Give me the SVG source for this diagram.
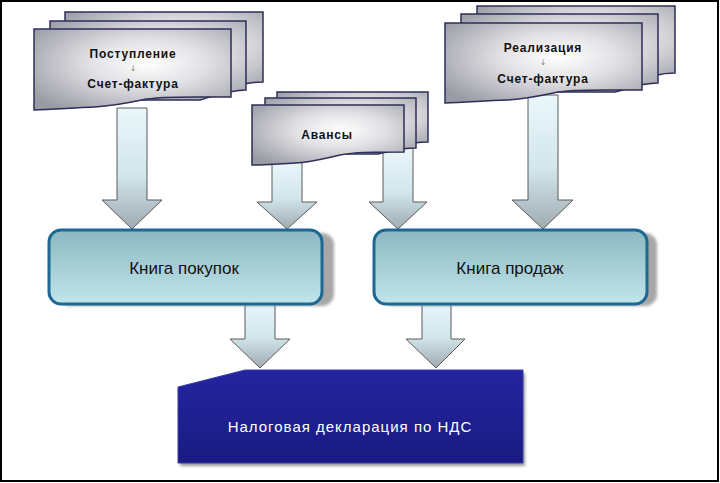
<svg xmlns="http://www.w3.org/2000/svg" width="720" height="483" viewBox="0 0 720 483">
<defs>
<radialGradient id="docG" cx="0.58" cy="0.42" r="0.72">
<stop offset="0" stop-color="#ffffff"/>
<stop offset="0.4" stop-color="#e2e2e6"/>
<stop offset="1" stop-color="#9a9aa4"/>
</radialGradient>
<linearGradient id="arrG" x1="0" y1="0" x2="0" y2="1">
<stop offset="0" stop-color="#eaf7fb"/>
<stop offset="0.55" stop-color="#d2e6ec"/>
<stop offset="1" stop-color="#9fabb1"/>
</linearGradient>
<linearGradient id="bookG" x1="0" y1="0" x2="0" y2="1">
<stop offset="0" stop-color="#8db8c1"/>
<stop offset="1" stop-color="#c0e5eb"/>
</linearGradient>
<linearGradient id="ndsG" x1="0" y1="0" x2="0" y2="1">
<stop offset="0" stop-color="#2424a0"/>
<stop offset="1" stop-color="#1a1a82"/>
</linearGradient>
<filter id="blur" x="-10%" y="-10%" width="130%" height="130%"><feGaussianBlur stdDeviation="1.5"/></filter>
</defs>
<style>
.doc{fill:url(#docG);stroke:#2e2e58;stroke-width:1.5}
.arr{fill:url(#arrG);stroke:#5a5a5a;stroke-width:1}
.book{fill:url(#bookG);stroke:#1d6894;stroke-width:3}
.shadow{fill:#8a8a8a;opacity:0.75;filter:url(#blur)}
.dt{font-family:"Liberation Sans",Arial,sans-serif;font-weight:bold;font-size:12px;fill:#111;text-anchor:middle;letter-spacing:0.8px}
.sm{font-family:"DejaVu Sans",sans-serif;font-size:8px;fill:#888;text-anchor:middle}
.bt{font-family:"Liberation Sans",Arial,sans-serif;font-size:17px;fill:#111;text-anchor:middle}
.nt{font-family:"Liberation Sans",Arial,sans-serif;font-size:15px;fill:#ffffff;text-anchor:middle;letter-spacing:1px}
</style>
<rect x="1" y="1" width="717" height="480" fill="#ffffff" stroke="#000" stroke-width="2"/>

<g id="connectors">
<polygon class="arr" points="117,108 147,108 147,200 162,200 132,229 102,200 117,200"/>
<polygon class="arr" points="272,160 302,160 302,202 317,202 287,229 257,202 272,202"/>
<polygon class="arr" points="383,148 413,148 413,202 427,202 398,229 369,202 383,202"/>
<polygon class="arr" points="528,95 558,95 558,200 573,200 543,229 512,200 528,200"/>
<polygon class="arr" points="245,300 275,300 275,339 290,339 260,368 230,339 245,339"/>
<polygon class="arr" points="422,300 451,300 451,339 465,339 436,368 406,339 422,339"/>
</g>

<g id="doc-postuplenie">
<path class="doc" d="M65,12 H263 V82 C245,82 232,88 220,92 L65,92 Z"/>
<path class="doc" d="M50,21 H246 V90 C228,90 215,96 200,100 L50,100 Z"/>
<path class="doc" d="M34,29 H231 V97 C185,97 165,96 147,99 C128,103 115,106 95,107 C70,108 50,110 34,110 Z"/>
<text class="dt" x="133" y="58">Поступление</text>
<text class="sm" x="133" y="71">↓</text>
<text class="dt" x="133" y="88">Счет-фактура</text>
</g>

<g id="doc-avansy">
<path class="doc" d="M277,92 H428 V142 C410,142 400,146 390,148 L277,148 Z"/>
<path class="doc" d="M265,98 H416 V148 C398,148 388,152 378,154 L265,154 Z"/>
<path class="doc" d="M252,105 H404 V152 C370,152 355,152 340,155 C322,159 312,162 295,163 C275,164 262,165 252,165 Z"/>
<text class="dt" x="327" y="139">Авансы</text>
</g>

<g id="doc-realizaciya">
<path class="doc" d="M477,6 H675 V73 C657,73 644,79 632,83 L477,83 Z"/>
<path class="doc" d="M461,14 H658 V83 C640,83 627,89 615,92 L461,92 Z"/>
<path class="doc" d="M445,23 H642 V90 C596,90 576,89 558,92 C540,96 526,99 506,100 C481,101 461,103 445,103 Z"/>
<text class="dt" x="543" y="52">Реализация</text>
<text class="sm" x="543" y="65">↓</text>
<text class="dt" x="543" y="83">Счет-фактура</text>
</g>

<g id="kniga-pokupok">
<rect class="shadow" x="58" y="233" width="276" height="73" rx="12"/>
<rect class="book" x="49" y="230" width="273" height="74" rx="12"/>
<text class="bt" x="184" y="274">Книга покупок</text>
</g>

<g id="kniga-prodazh">
<rect class="shadow" x="382" y="233" width="275" height="73" rx="12"/>
<rect class="book" x="374" y="230" width="273" height="74" rx="12"/>
<text class="bt" x="510" y="274">Книга продаж</text>
</g>

<g id="nds">
<polygon points="180,390 247,373 525,373 525,466 180,466" fill="#555" opacity="0.6" filter="url(#blur)"/>
<polygon points="178,387 245,370 523,370 523,463 178,463" fill="url(#ndsG)" stroke="#3a3ab0" stroke-width="1"/>
<text class="nt" x="350" y="432">Налоговая декларация по НДС</text>
</g>
</svg>
